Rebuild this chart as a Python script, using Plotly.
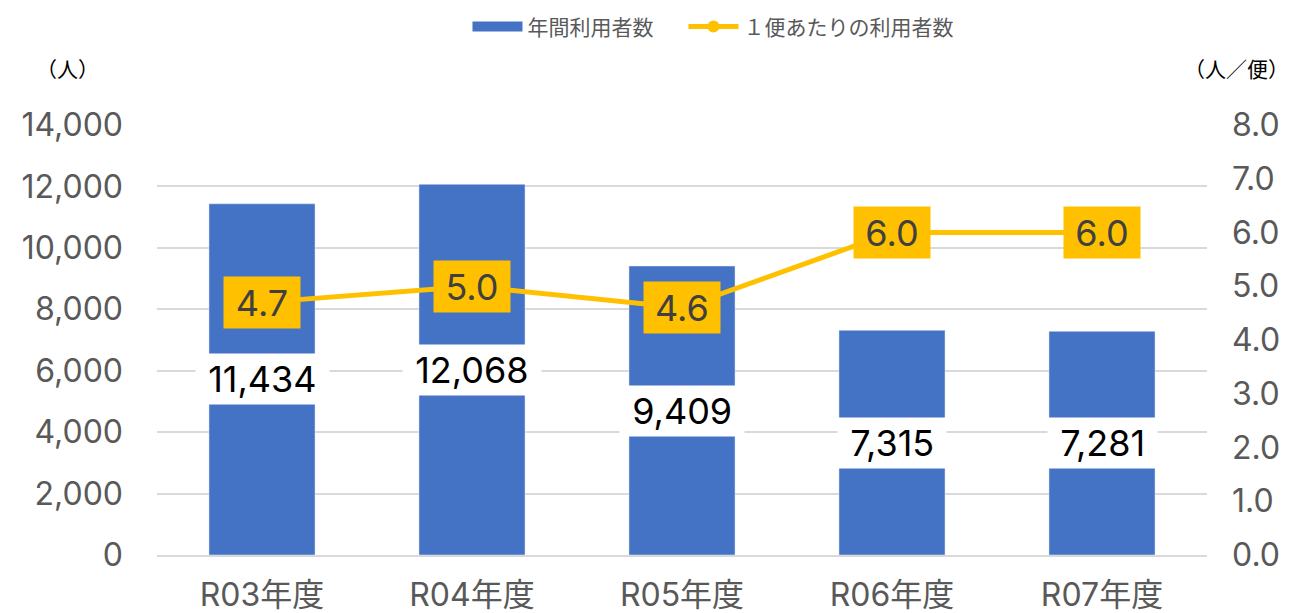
import plotly.graph_objects as go

categories = ["R03年度", "R04年度", "R05年度", "R06年度", "R07年度"]
annual_users = [11434, 12068, 9409, 7315, 7281]
per_trip = [4.7, 5.0, 4.6, 6.0, 6.0]
bar_name = "年間利用者数"
line_name = "１便あたりの利用者数"
left_title = "（人）"
right_title = "（人／便）"

FONT = "Inter, Noto Sans CJK JP"
JFONT = "Noto Sans CJK JP"
GRAY = "#595959"
BLUE = "#4472C4"
GOLD = "#FFC000"
NB = "\u00a0"

fig = go.Figure()
fig.add_trace(go.Bar(x=categories, y=annual_users, name=bar_name, showlegend=False,
                     marker_color=BLUE, width=0.505, yaxis="y"))
# legend-only entry drawn as a wide rectangle like the original
fig.add_trace(go.Scatter(x=[None], y=[None], name=bar_name, mode="lines",
                         line=dict(color=BLUE, width=15), yaxis="y", legend="legend"))
fig.add_trace(go.Scatter(x=categories, y=per_trip, name=line_name, mode="lines+markers",
                         line=dict(color=GOLD, width=5),
                         marker=dict(color=GOLD, size=12), yaxis="y2", legend="legend2"))

annotations = []
for c, v in zip(categories, annual_users):
    annotations.append(dict(x=c, y=v / 2, xref="x", yref="y", text=NB + f"{v:,}" + NB,
                            showarrow=False, bgcolor="white", borderpad=2, height=46,
                            font=dict(family=FONT, size=36, color="black")))
for c, v in zip(categories, per_trip):
    annotations.append(dict(x=c, y=v, xref="x", yref="y2", text=f"{v:.1f}",
                            showarrow=False, bgcolor=GOLD, borderpad=2, height=47, width=72,
                            font=dict(family=FONT, size=36, color="#404040")))
annotations.append(dict(x=-0.085, y=1.133, xref="paper", yref="paper", text=left_title,
                        xanchor="center", yanchor="middle", showarrow=False,
                        font=dict(family=JFONT, size=21, color="black")))
annotations.append(dict(x=1.08, y=1.133, xref="paper", yref="paper", text=right_title,
                        xanchor="right", yanchor="middle", showarrow=False,
                        font=dict(family=JFONT, size=21, color="black")))

legend_common = dict(orientation="h", xanchor="left", y=1.228, yanchor="middle",
                     font=dict(family=JFONT, size=21, color=GRAY), itemwidth=50,
                     bgcolor="rgba(0,0,0,0)", borderwidth=0)

# page body has an 8px margin: shift the figure up/left to compensate
fig.update_layout(
    width=1285, height=605,
    margin=dict(l=149, r=86, t=117, b=58, autoexpand=False),
    paper_bgcolor="white", plot_bgcolor="white",
    font=dict(family=FONT, color=GRAY),
    showlegend=True,
    legend=dict(x=0.2957, **legend_common),
    legend2=dict(x=0.5014, **legend_common),
    xaxis=dict(showgrid=False, showline=True, linecolor="#D9D9D9", linewidth=2,
               tickfont=dict(family=FONT, size=32, color=GRAY), ticks="",
               ticklabelstandoff=11, automargin=False),
    yaxis=dict(range=[0, 14000], dtick=2000, tickformat=",d", showgrid=True,
               gridcolor="#D9D9D9", gridwidth=2, zeroline=False,
               tickfont=dict(family=FONT, size=32, color=GRAY),
               ticklabelstandoff=33, automargin=False),
    yaxis2=dict(range=[0, 8], dtick=1, tickformat=".1f", overlaying="y", side="right",
                showgrid=False, zeroline=False,
                tickfont=dict(family=FONT, size=32, color=GRAY),
                ticklabelstandoff=24, automargin=False),
    annotations=annotations,
)

fig.write_html("out.html")
